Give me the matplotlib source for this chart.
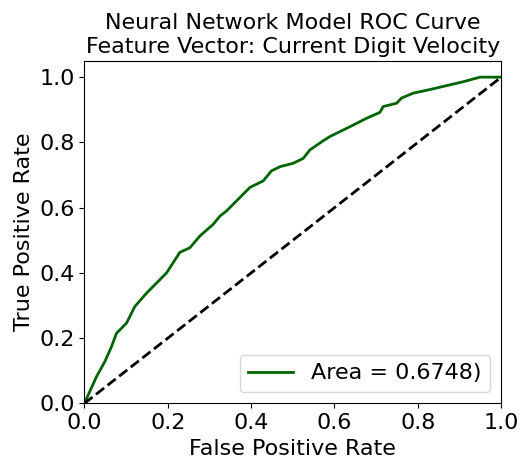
import matplotlib
matplotlib.use("Agg")
import matplotlib.pyplot as plt

fpr = [0.0, 0.029, 0.049, 0.065, 0.077, 0.101, 0.121, 0.149, 0.177, 0.197, 0.229, 0.253,
       0.277, 0.309, 0.325, 0.341, 0.373, 0.397, 0.429, 0.449, 0.470, 0.501, 0.525, 0.541,
       0.573, 0.589, 0.637, 0.677, 0.709, 0.717, 0.749, 0.761, 0.789, 0.829, 0.869, 0.909,
       0.949, 1.0]
tpr = [0.0, 0.082, 0.128, 0.174, 0.215, 0.246, 0.297, 0.338, 0.374, 0.400, 0.463, 0.477,
       0.513, 0.549, 0.574, 0.590, 0.631, 0.662, 0.682, 0.713, 0.726, 0.736, 0.751, 0.777,
       0.805, 0.818, 0.848, 0.874, 0.892, 0.910, 0.920, 0.936, 0.951, 0.962, 0.974, 0.986,
       1.0, 1.0]
auc_label = "Area = 0.6748)"
title = "Neural Network Model ROC Curve\nFeature Vector: Current Digit Velocity"

plt.rcParams['font.size'] = 16
fig = plt.figure(figsize=(5.21, 4.68), dpi=100)
ax = fig.add_axes([0.162, 0.138, 0.800, 0.732])
ax.plot(fpr, tpr, color='darkgreen', lw=2, label=auc_label)
ax.plot([0, 1], [0, 1], color='black', lw=2, linestyle='--')
ax.set_xlim(0, 1)
ax.set_ylim(0, 1.05)
ax.set_xlabel('False Positive Rate')
ax.set_ylabel('True Positive Rate')
ax.set_title(title, fontsize=16)
ax.legend(loc='lower right')
fig.savefig('out.png', dpi=100)
